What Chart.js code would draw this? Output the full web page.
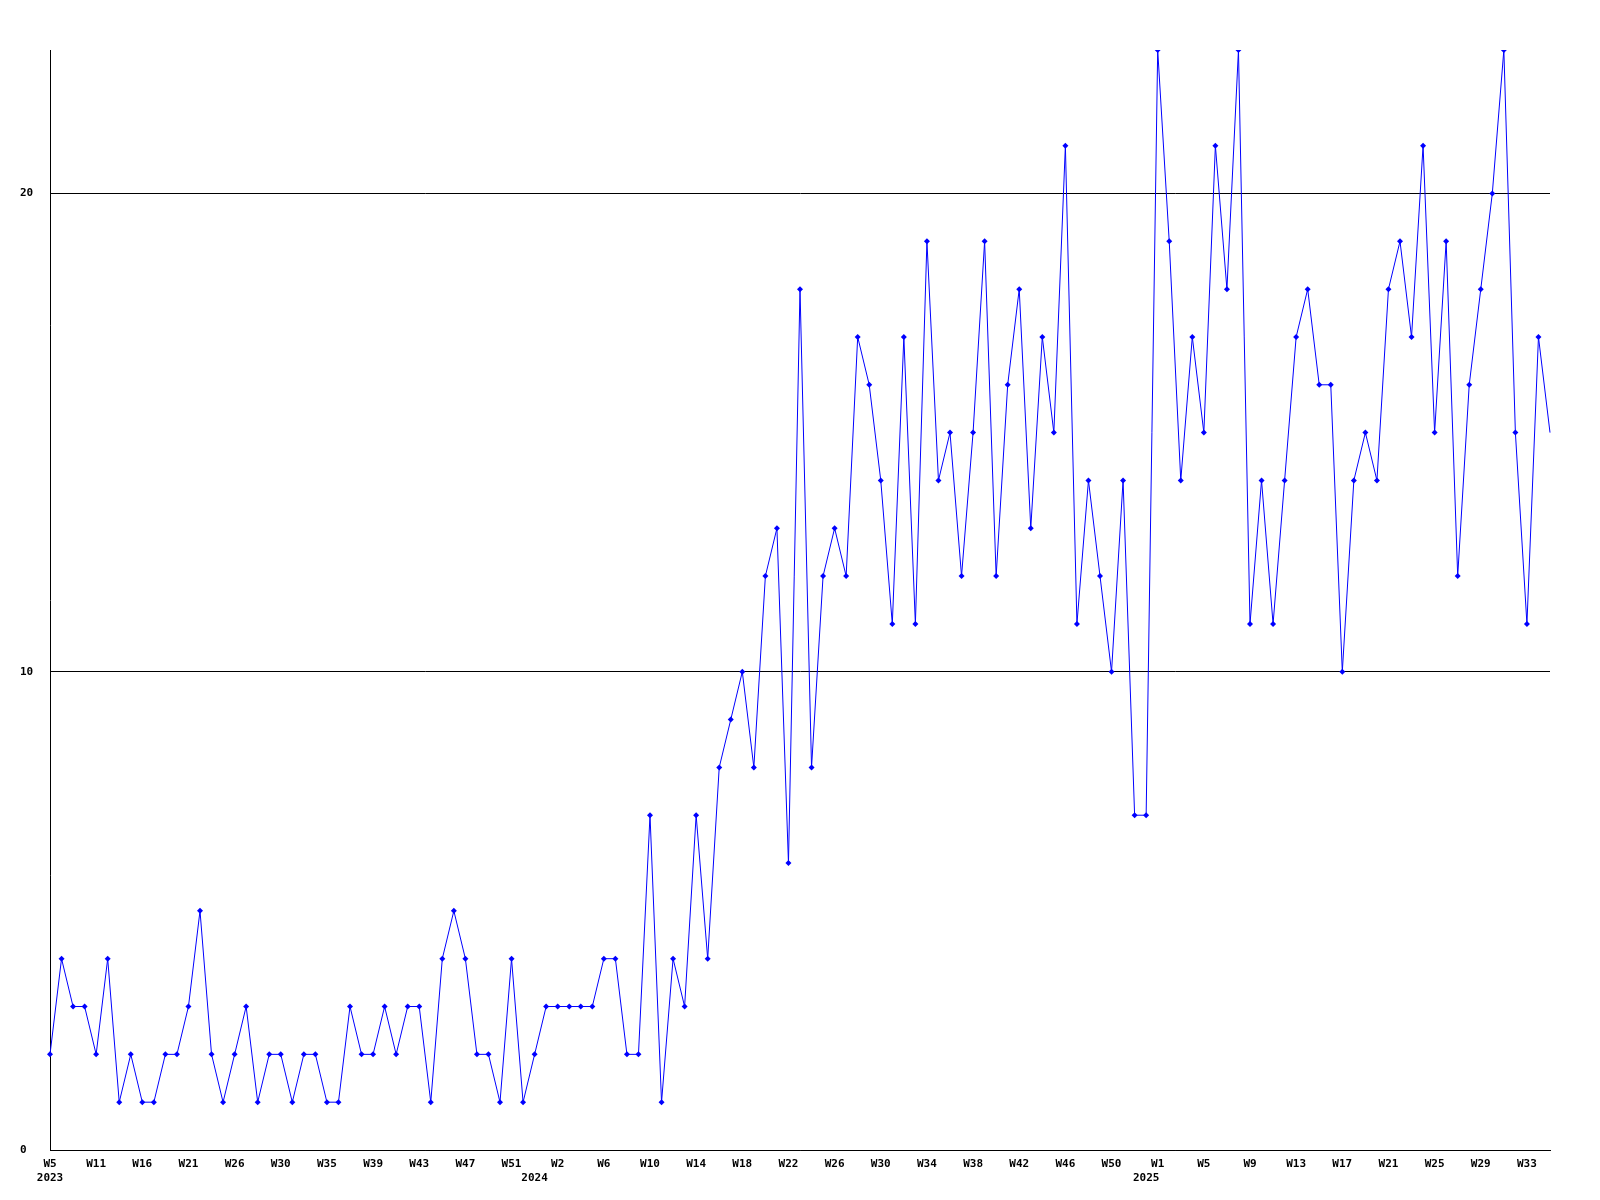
<!DOCTYPE html>
<html>
<head>
<meta charset="utf-8">
<script src="https://cdn.jsdelivr.net/npm/chart.js@4"></script>
<style>
  body { margin: 0; background: #ffffff; }
  canvas { display: block; }
</style>
</head>
<body>
<canvas id="weekCanvas" width="1600" height="1200"></canvas>
<script>
// week labels per point (some weeks of 2023 are missing)
const weeks2023 = ["W5","W6","W8","W9","W11","W12","W13","W15","W16","W17","W18","W20","W21","W22","W23","W24",
    "W26","W27","W28","W29","W30","W31","W32","W34","W35","W36","W37","W38","W39","W40","W41","W42",
    "W43","W44","W45","W46","W47","W48","W49","W50","W51","W52"]
const weeks2024 = ["W0","W1","W2","W3","W4","W5","W6","W7","W8","W9","W10","W11","W12","W13","W14","W15","W16",
    "W17","W18","W19","W20","W21","W22","W23","W24","W25","W26","W27","W28","W29","W30","W31","W32","W33",
    "W34","W35","W36","W37","W38","W39","W40","W41","W42","W43","W44","W45","W46","W47","W48","W49","W50",
    "W51","W52"]
const weeks2025 = ["W0","W1","W2","W3","W4","W5","W6","W7","W8","W9","W10","W11","W12","W13","W14","W15","W16",
    "W17","W18","W19","W20","W21","W22","W23","W24","W25","W26","W27","W28","W29","W30","W31","W32","W33",
    "W34","W35"]

const values2023 = [2,4,3,3,2,4,1,2,1,1,2,2,3,5,2,1,2,3,1,2,2,1,2,2,1,1,3,2,2,3,2,3,3,1,4,5,4,2,2,1,4,1]
const values2024 = [2,3,3,3,3,3,4,4,2,2,7,1,4,3,7,4,8,9,10,8,12,13,6,18,8,12,13,12,17,16,14,11,17,11,19,14,
    15,12,15,19,12,16,18,13,17,15,21,11,14,12,10,14,7]
const values2025 = [7,23,19,14,17,15,21,18,23,11,14,11,14,17,18,16,16,10,14,15,14,18,19,17,21,15,19,12,16,18,
    20,23,15,11,17,15]

const yTicks = [0, 10, 20]

const labels = []
const yearStart = {}
;[["2023", weeks2023], ["2024", weeks2024], ["2025", weeks2025]].forEach(([y, w]) => {
    yearStart[labels.length] = y
    w.forEach(x => labels.push(x))
})
const values = values2023.concat(values2024, values2025)
const lastIndex = values.length - 1

const tickFont = { family: "'DejaVu Sans Mono', monospace", size: 11, weight: "bold", lineHeight: "14px" }

const weekChart = new Chart(document.getElementById("weekCanvas"), {
    type: "line",
    data: {
        labels: labels,
        datasets: [{
            data: values,
            borderColor: "#0000ff",
            borderWidth: 1,
            tension: 0,
            pointStyle: "rectRot",
            pointRadius: ctx => ctx.dataIndex === lastIndex ? 0 : 3,
            pointBackgroundColor: "#0000ff",
            pointBorderWidth: 0
        }]
    },
    options: {
        responsive: false,
        animation: false,
        layout: { padding: { top: 50, right: 50, left: 20, bottom: 0 } },
        plugins: { legend: { display: false }, tooltip: { enabled: false } },
        scales: {
            x: {
                offset: false,
                grid: { display: false, drawTicks: false },
                border: { color: "#000000", width: 1 },
                afterFit: s => { s.height = 50 },
                ticks: {
                    autoSkip: false,
                    maxRotation: 0,
                    padding: 7,
                    color: "#000000",
                    font: tickFont,
                    callback: function (value, index) {
                        const week = index % 4 === 0 ? labels[index] : ""
                        if (yearStart[index]) return [week, yearStart[index]]
                        return week
                    }
                }
            },
            y: {
                min: 0,
                max: 23,
                afterBuildTicks: s => { s.ticks = yTicks.map(v => ({ value: v })) },
                afterFit: s => { s.width = 30 },
                grid: { color: "#000000", lineWidth: 1, drawTicks: false },
                border: { color: "#000000", width: 1 },
                ticks: {
                    crossAlign: "far",
                    padding: 0,
                    color: "#000000",
                    font: tickFont
                }
            }
        }
    }
})
</script>
</body>
</html>
